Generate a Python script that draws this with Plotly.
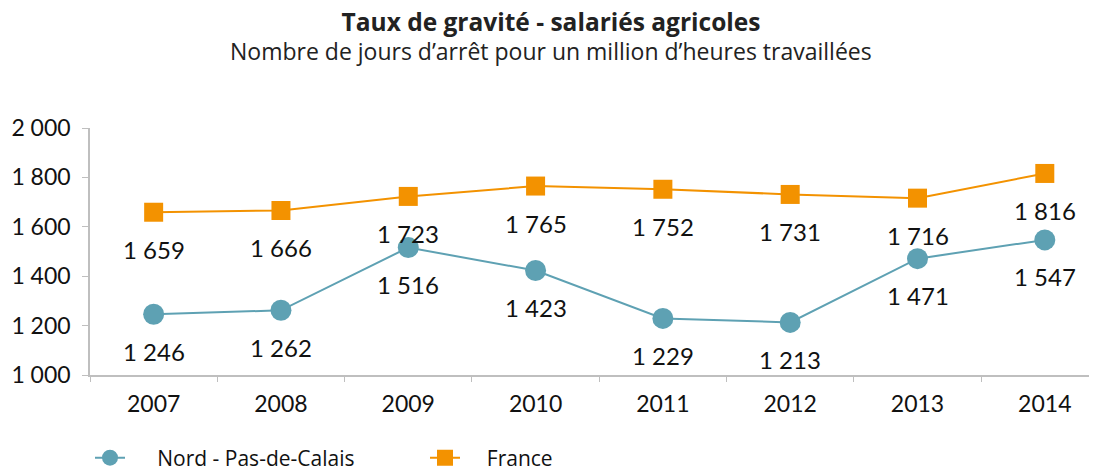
import plotly.graph_objects as go

years = ["2007", "2008", "2009", "2010", "2011", "2012", "2013", "2014"]
nord = [1246, 1262, 1516, 1423, 1229, 1213, 1471, 1547]
france = [1659, 1666, 1723, 1765, 1752, 1731, 1716, 1816]
y_ticks = [1000, 1200, 1400, 1600, 1800, 2000]
y_tick_text = ["1 000", "1 200", "1 400", "1 600", "1 800", "2 000"]
series_names = ["Nord - Pas-de-Calais", "France"]

NORD_C = "#5EA1B3"
FR_C = "#F39200"
FONT = "Lato"
TFONT = "Open Sans"

# page body has an 8px default margin; the figure is sized to fill the rest
W, H = 1089, 463
OFF = 8
NB = "\u00a0"


def fmt(v):
    return f"{v:,}".replace(",", " ")


fig = go.Figure()
fig.add_trace(go.Scatter(
    x=years, y=nord, name=NB * 5 + series_names[0], mode="lines+markers",
    line=dict(color=NORD_C, width=2),
    marker=dict(symbol="circle", size=21, color=NORD_C),
))
fig.add_trace(go.Scatter(
    x=years, y=france, name=NB * 4 + series_names[1], mode="lines+markers",
    line=dict(color=FR_C, width=2),
    marker=dict(symbol="square", size=19, color=FR_C),
))

annotations = []
for series in (nord, france):
    for i, y in enumerate(series):
        annotations.append(dict(
            x=i, y=y, xref="x", yref="y", text=fmt(y), showarrow=False,
            yshift=-37, font=dict(size=24, color="#111111", family=FONT),
        ))

annotations.append(dict(
    text="Nombre de jours d\u2019arr\u00eat pour un million d\u2019heures travaill\u00e9es",
    xref="paper", yref="paper", x=0.458, y=1 + (128 - 51) / 247,
    xanchor="center", yanchor="middle", showarrow=False,
    font=dict(size=23, color="#222222", family=TFONT),
))

fig.update_layout(
    width=W, height=H,
    margin=dict(l=90 - OFF, r=0, t=128 - OFF, b=H - (128 - OFF) - 247),
    paper_bgcolor="white", plot_bgcolor="white",
    font=dict(family=FONT, size=23, color="#111111"),
    title=dict(
        text="<b>Taux de gravit\u00e9 - salari\u00e9s agricoles</b>",
        x=(551 - OFF) / W, xanchor="center", xref="container",
        y=1 - (22 - OFF) / H, yanchor="middle", yref="container",
        font=dict(size=24.5, color="#222222", family=TFONT),
    ),
    showlegend=True,
    legend=dict(
        orientation="h", x=0.0, xanchor="left",
        y=1 - (458 - OFF) / H, yanchor="middle", yref="container",
        font=dict(size=21, color="#111111", family=TFONT),
        entrywidth=290, itemsizing="trace",
    ),
    annotations=annotations,
)
fig.update_xaxes(
    type="category", range=[-0.5, 7.41], automargin=False,
    showline=True, linecolor="#BFBFBF", linewidth=1.5,
    showgrid=False, ticks="outside", ticklen=5, tickcolor="#BFBFBF",
    tickson="boundaries", tickfont=dict(size=23), zeroline=False,
    ticklabelstandoff=8,
)
fig.update_yaxes(
    range=[1000, 2000], tickvals=y_ticks, ticktext=y_tick_text,
    automargin=False,
    showline=True, linecolor="#BFBFBF", linewidth=1.5,
    showgrid=False, ticks="outside", ticklen=6, tickcolor="#BFBFBF",
    tickfont=dict(size=23), zeroline=False, ticklabelstandoff=7,
)

fig.write_html("out.html")
